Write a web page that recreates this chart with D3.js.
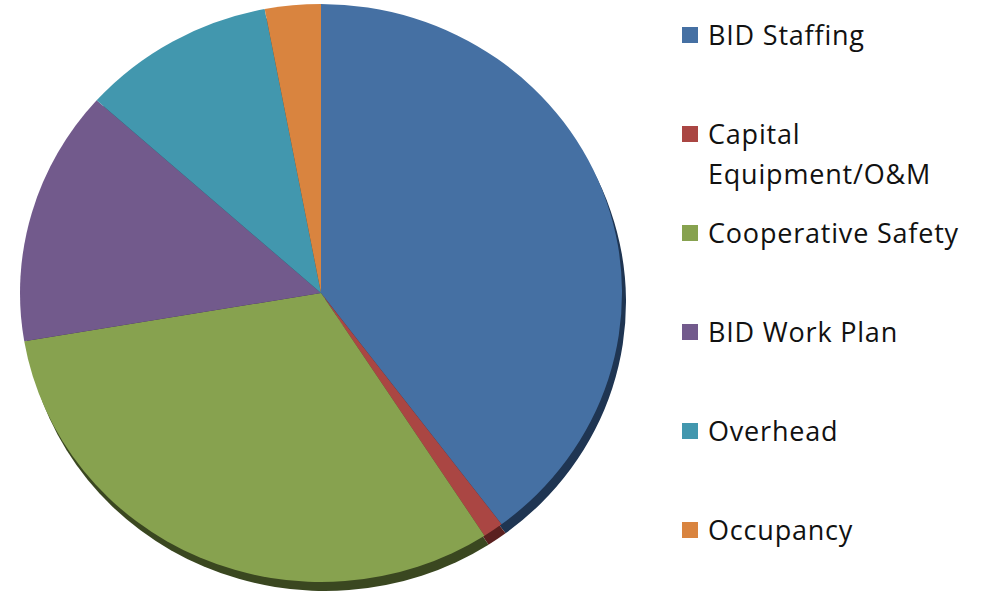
<!DOCTYPE html>
<html lang="en">
<head>
  <meta charset="UTF-8" />
  <title>BID budget pie</title>
  <style>
    body { margin: 0; background: #fff; }
    svg { display: block; }
    .legend text { font-family: "Open Sans", Lato, sans-serif; font-size: 27px; letter-spacing: 0.8px; fill: #111; }
  </style>
</head>
<body>
  <svg id="chart"></svg>

  <script src="https://d3js.org/d3.v7.min.js"></script>
  <script>
    // slice data (percent of total)
    const categories = ["BID Staffing", "Capital Equipment/O&M", "Cooperative Safety", "BID Work Plan", "Overhead", "Occupancy"];
    const values = [39.8, 1.1, 31.5, 14.3, 10.4, 3.0];
    const colors = ["#4570a3", "#aa4643", "#87a24f", "#725a8c", "#4297ae", "#d9843f"];
    const sideColors = ["#1f3552", "#5a201f", "#3a4720", "#352a45", "#1d4756", "#6b3e1a"];
    const legendLines = [["BID Staffing"], ["Capital", "Equipment/O&M"], ["Cooperative Safety"], ["BID Work Plan"], ["Overhead"], ["Occupancy"]];

    const W = 987, H = 598;
    const cx = 321, cy = 293, rx = 301, ry = 289;

    const svg = d3.select("#chart").attr("width", W).attr("height", H);

    const pie = d3.pie().sort(null).value(d => d);
    const arcs = pie(values);
    const arc = d3.arc().innerRadius(0).outerRadius(ry);

    // extruded side / shadow, shifted down-right
    svg.append("g")
      .attr("transform", `translate(${cx + 4},${cy + 9}) scale(${rx / ry},1)`)
      .selectAll("path")
      .data(arcs)
      .join("path")
      .attr("d", arc)
      .attr("fill", (d, i) => sideColors[i]);

    // top face
    svg.append("g")
      .attr("transform", `translate(${cx},${cy}) scale(${rx / ry},1)`)
      .selectAll("path")
      .data(arcs)
      .join("path")
      .attr("d", arc)
      .attr("fill", (d, i) => colors[i]);

    // legend
    const itemY = d3.scalePoint().domain(categories).range([45, 540]);
    const legend = svg.append("g").attr("class", "legend");
    const items = legend.selectAll("g")
      .data(categories)
      .join("g")
      .attr("transform", d => `translate(682,${itemY(d)})`);

    items.append("rect")
      .attr("x", 0).attr("y", -18)
      .attr("width", 16).attr("height", 16)
      .attr("fill", (d, i) => colors[i]);

    items.append("text")
      .attr("x", 26)
      .selectAll("tspan")
      .data((d, i) => legendLines[i])
      .join("tspan")
      .attr("x", 26)
      .attr("dy", (d, j) => j === 0 ? 0 : 40)
      .text(d => d);
  </script>
</body>
</html>
